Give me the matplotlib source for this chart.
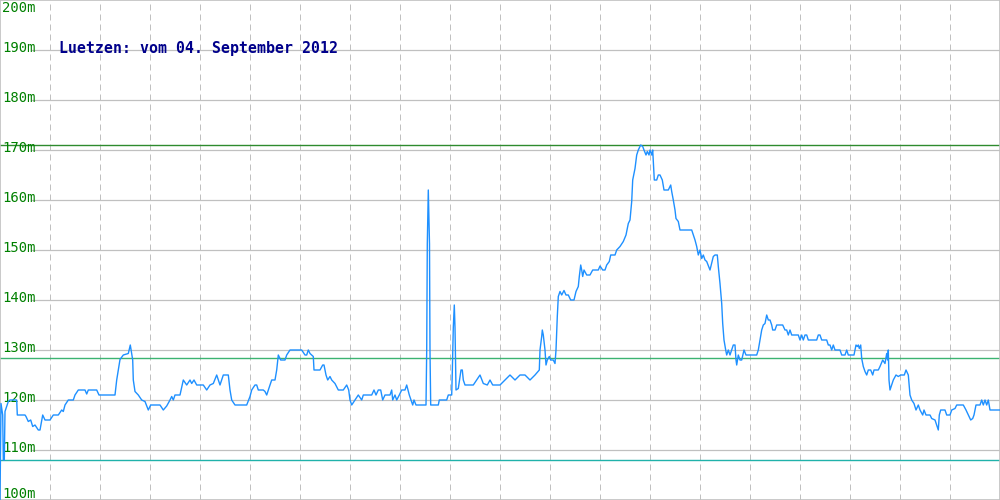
import matplotlib
matplotlib.use("Agg")
import matplotlib.pyplot as plt

# time index (sample position) of each reading
t = [
    0, 1, 2.7, 3.3, 4.3, 5, 6.7, 8.3, 10, 16.7,
    17.3, 25, 26, 28.3, 30.7, 32.7, 35, 38.3, 40, 42.7,
    45, 50, 53.3, 58.3, 61.7, 63.3, 65, 68.3, 73.3, 75,
    78.3, 85, 86.7, 88.3, 96.7, 99, 115, 116.7, 118.3, 120,
    123.3, 128.3, 130.3, 132.7, 133.3, 135, 138.3, 141.7, 145, 148.3,
    150.7, 160, 163.3, 166.7, 170, 171.7, 173.3, 175, 180, 183.3,
    186.7, 190, 191.7, 194, 196.7, 203.3, 206.7, 210, 213.3, 216.7,
    218.3, 220, 221.7, 223.3, 228.3, 230, 231.7, 235, 246.7, 250,
    251.7, 255, 256.7, 258.3, 263.3, 265, 266.7, 268.3, 270, 271.7,
    275, 276.7, 278.3, 280.7, 285, 286.7, 290, 301.7, 305, 306.7,
    308.3, 310, 313.3, 314, 320, 322.7, 324, 326, 327.7, 330,
    331.7, 335, 338.3, 343.3, 346.7, 348.7, 350, 351.7, 355, 358.3,
    361.7, 363.3, 371.7, 374, 376, 378.3, 380.7, 382.7, 385, 390,
    391.7, 392.7, 395, 396.7, 399.3, 401.7, 405, 406.7, 409.3, 411,
    412.7, 414, 416, 426,
    426.7, 427.3, 428.3, 429.5, 430, 430.7, 438.3, 439.3, 446.7, 448.3,
    451.7, 452.3, 453.3, 454.3, 455, 455.7, 456, 458.3, 460, 461,
    462.3, 463.3, 465, 473.3, 476.7, 480, 483.3, 487.3, 490, 492.7,
    500, 505, 510, 515, 520, 525, 530, 535, 539.3,
    540, 541.7, 542.3, 543.3, 544.3, 545, 546, 547.3, 549.3, 550.7,
    553.3, 555, 556, 557.3, 558.3, 560, 561.7, 564, 566, 568.3,
    570.7, 574, 576, 578.3, 579.3, 580.7, 581.7, 582.7, 584, 586.7,
    590, 592.7, 598.3, 600, 602.7, 605, 606.7, 609.3, 610.7, 615,
    616.7, 620, 623.3, 626, 628.3, 630, 631.7, 632.7, 635, 636.7,
    638.3, 640.7, 642.7, 644, 646, 647.3, 649, 650, 651.7, 652.7,
    654, 654.3, 656.7, 658.3, 660, 662.3, 664, 668.3, 670.7, 671.7,
    673.3, 675, 676, 678.3, 680, 691.7, 693.3, 695, 696.7, 698.3,
    700, 701.7, 703.3, 705, 706.7, 710, 713.3, 715, 717.3, 718.3,
    720, 721.7, 722.7, 724, 725.7, 726.7, 728.3, 730, 731.7, 733.3,
    735, 736, 736.7, 738.3, 740, 741.7, 744, 746, 750,
    756.7, 758.3, 760, 761.7, 763.3, 765, 766.7, 768.3, 770, 771.7,
    772.7, 775, 776.7, 782.7, 785, 786.7, 788.3, 790, 791.7, 798.3,
    800, 801.7, 803.3, 805, 806.7, 808.3, 816.7, 818.3, 820, 821.7,
    826.7, 828.3, 830, 831.7, 833.3, 835, 840, 841.7, 845, 846.7,
    848.3, 854, 856, 857.3, 858.3, 859.3, 860.7, 861.7, 863.3, 865,
    866.7, 868.3, 870.7, 872.7, 874, 878.3, 880, 882.7, 885, 886.7,
    887.7, 888.3, 889, 890, 891.7, 893.3, 896, 898.3, 900.7, 904.3,
    906, 908.3, 910, 911.7, 914, 916, 918.3, 920, 922.7, 924,
    926, 930, 931.7, 935, 936.7, 938.3, 939.3, 940.7, 945, 946.7,
    950, 951.7, 955, 956.7, 963.3, 966, 968.3, 970.7, 972.7, 974,
    976, 980, 981.7, 983.3, 985, 986.7, 988.3, 990, 1000,
]

# water level [m]
level = [
    100, 119.3, 117, 108, 108, 117.7, 118.7, 119.7, 120, 120,
    117, 117, 116.7, 115.7, 116, 114.7, 115, 114, 114, 117,
    116, 116, 117, 117, 118, 117.7, 119, 120, 120, 121,
    122, 122, 121.2, 122, 122, 121, 121, 124, 126, 128.1,
    129, 129.3, 131, 128, 124, 121.7, 121, 120, 119.7, 118,
    119, 119, 118, 118.8, 120, 120.7, 120, 121, 121, 124,
    123, 124, 123.3, 124, 123, 123, 122, 123, 123.3, 125,
    124, 123, 124, 125, 125, 122, 120, 119, 119, 120.7,
    122, 123, 123, 122, 122, 121.7, 121, 122, 123, 124,
    124, 126, 129, 128, 128, 129, 130, 130, 129, 129,
    130, 129.3, 128.7, 126, 126, 127, 127, 125, 124, 124.7,
    124, 123.3, 122, 122, 123, 122, 120, 119, 120, 121,
    120, 121, 121, 122, 121, 122, 122, 120, 121, 121,
    122, 120, 121, 120, 121, 122, 122, 123, 121, 120,
    119, 120, 119, 119,
    129.7, 151.2, 162, 151.2, 129.7, 119, 119, 120, 120, 121,
    121, 125.5, 134.5, 139, 134.5, 126, 122, 122.3, 124.7, 126,
    126, 124, 123, 123, 124, 125, 123.3, 123, 124, 123,
    123, 124, 125, 124, 125, 125, 124, 125, 126,
    130, 132.7, 134, 133, 131.3, 130, 127, 128, 128.7, 128,
    128, 127.3, 130, 136.7, 140.7, 141.7, 141, 141.9, 141, 141,
    140, 140, 141.7, 142.7, 144.7, 147, 146, 144.7, 146, 145,
    145, 146, 146, 146.8, 146, 146, 147, 147.7, 149, 149,
    150, 150.7, 151.7, 153, 155.3, 156, 159.7, 164, 166.3, 169,
    170, 171, 170.7, 170, 169, 169.7, 169, 170, 169, 170,
    165.3, 164, 164, 165, 165, 164, 162, 162, 163, 161.7,
    160, 158, 156.3, 155.7, 154, 154, 153, 152, 150.7, 149,
    150, 148.3, 149, 148, 147.7, 146, 148.7, 149, 149, 146.7,
    143.3, 139.3, 135.3, 132, 130, 129, 130, 129, 130, 131,
    131, 128, 127, 129, 128, 128, 130, 129, 129,
    129, 130, 132, 134, 135, 135.3, 137, 136, 136, 135,
    134, 134, 135, 135, 134, 134, 133, 134, 133, 133,
    132, 133, 132, 133, 133, 132, 132, 133, 133, 132,
    132, 131, 131, 130, 131, 130, 130, 129, 129, 130,
    129, 129, 131, 130.7, 131, 130.3, 131, 128.3, 126.7, 125.7,
    125, 126, 126, 125, 126, 126, 126.7, 128, 127.3, 129.3,
    128, 130, 124, 122, 123, 124, 125, 124.7, 125, 125,
    126, 125, 121, 120, 119.3, 118, 119, 118, 117, 118,
    117, 117, 116.3, 116, 115, 114, 117, 118, 118, 117,
    117, 118, 118.3, 119, 119, 118, 117, 116, 116.3, 117,
    119, 119, 120, 119, 120, 119, 120, 118, 118,
]

# reference levels [m]
ref_levels = [171.0, 128.4, 108.0]
ref_colors = ["#2e8b2e", "#3cb371", "#20b2aa"]

y_ticks = [100, 110, 120, 130, 140, 150, 160, 170, 180, 190, 200]
tick_labels = [f"{v}m" for v in y_ticks]
title = "Luetzen: vom 04. September 2012"

fig = plt.figure(figsize=(10, 5), dpi=100)
ax = fig.add_axes([0, 0, 1, 1])
ax.set_xlim(0, 1000)
ax.set_ylim(100, 200)
ax.set_xticks([])
ax.set_yticks([])
for s in ax.spines.values():
    s.set_color("#c0c0c0")
    s.set_linewidth(1.2)

grid_c = "#c0c0c0"
for v in y_ticks[1:-1]:
    ax.axhline(v, xmin=0.032, color=grid_c, lw=0.9, zorder=1)
for xv in range(50, 1000, 50):
    ax.axvline(xv, color=grid_c, lw=0.72, linestyle=(0, (6, 4)), zorder=1)

# tick labels drawn inside the plot
for v, lab in zip(y_ticks, tick_labels):
    if v == 200:
        yy = 198.4
    elif v == 100:
        yy = 101.2
    else:
        yy = v + 0.3
    ax.text(2, yy, lab, color="#008000", fontsize=10, family="DejaVu Sans Mono",
            ha="left", va="center", zorder=3)

for lv, c in zip(ref_levels, ref_colors):
    ax.axhline(lv, color=c, lw=1.0, zorder=2)

ax.plot(t, level, color="#1e90ff", lw=1.0, zorder=4)

ax.text(59, 190.4, title, color="#00008b", fontsize=10.7, family="DejaVu Sans Mono",
        fontweight="bold", ha="left", va="center", zorder=5)

fig.savefig("out.png", dpi=100)
